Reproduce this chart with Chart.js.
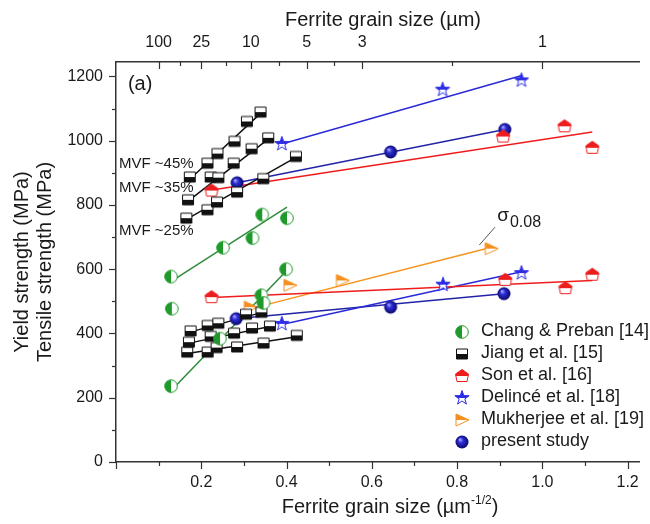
<!DOCTYPE html>
<html>
<head>
<meta charset="utf-8">
<script src="https://cdn.jsdelivr.net/npm/chart.js@4/dist/chart.umd.min.js"></script>
<style>
  html, body { margin: 0; padding: 0; background: #fff; }
</style>
</head>
<body>
<canvas id="hallPetch" width="650" height="524"></canvas>
<script>
// top axis: ferrite grain size d (µm), placed at d^-1/2
const grainSizeLabels = [100, 25, 10, 5, 3, 1];
const legendLabels = ['Chang & Preban [14]', 'Jiang et al. [15]', 'Son et al. [16]',
  'Delincé et al. [18]', 'Mukherjee et al. [19]', 'present study'];

// points as [d^-1/2 (µm^-1/2), strength (MPa)]
const changUpper = [[0.129, 577], [0.251, 667], [0.320, 697], [0.343, 770], [0.401, 759]];
const changLower = [[0.131, 477], [0.129, 236], [0.244, 384], [0.341, 519], [0.346, 495], [0.399, 600]];
const changUpperFit = [[0.125, 558], [0.401, 793]];
const changLowerFit = [[0.129, 222], [0.405, 602]];

const jiang45 = [[0.173, 887], [0.2145, 930], [0.238, 960], [0.278, 998], [0.307, 1060], [0.339, 1089]];
const jiang35 = [[0.169, 816], [0.222, 887], [0.240, 885], [0.276, 930], [0.318, 975], [0.357, 1009]];
const jiang25 = [[0.165, 759], [0.2145, 785], [0.237, 809], [0.284, 840], [0.3455, 882], [0.422, 951]];
const jiangLow1 = [[0.175, 408], [0.215, 425], [0.240, 432], [0.305, 460], [0.341, 466]];
const jiangLow2 = [[0.171, 373], [0.222, 391], [0.277, 401], [0.319, 417], [0.361, 423]];
const jiangLow3 = [[0.167, 342], [0.215, 342], [0.236, 356], [0.284, 358], [0.346, 370], [0.424, 394]];
const jiang45Fit = [[0.173, 880], [0.339, 1085]];
const jiang35Fit = [[0.169, 812], [0.357, 1005]];
const jiang25Fit = [[0.165, 755], [0.422, 948]];
const jiangLow1Fit = [[0.175, 405], [0.341, 465]];
const jiangLow2Fit = [[0.171, 370], [0.361, 422]];
const jiangLow3Fit = [[0.167, 338], [0.424, 390]];

const sonUpper = [[0.224, 845], [0.908, 1013], [1.052, 1045], [1.117, 978]];
const sonLower = [[0.224, 513], [0.913, 567], [1.054, 541], [1.117, 583]];
const sonUpperFit = [[0.217, 845], [1.117, 1027]];
const sonLowerFit = [[0.225, 512], [1.117, 565]];

const delinceUpper = [[0.389, 990], [0.766, 1159], [0.951, 1188]];
const delinceLower = [[0.389, 430], [0.767, 552], [0.951, 588]];
const delinceUpperFit = [[0.389, 990], [0.952, 1203]];
const delinceLowerFit = [[0.389, 428], [0.951, 592]];

const mukherjee = [[0.315, 482], [0.408, 550], [0.531, 565], [0.880, 664]];
const mukherjeeFit = [[0.300, 472], [0.883, 669]];

const presentUpper = [[0.284, 869], [0.644, 965], [0.912, 1035]];
const presentLower = [[0.282, 446], [0.644, 482], [0.910, 524]];
const presentUpperFit = [[0.284, 869], [0.912, 1035]];
const presentLowerFit = [[0.280, 446], [0.910, 524]];

const FONT = '"Liberation Sans", Arial, sans-serif';
const TEXT = '#1a1a1a';
const AXIS = '#333';

// ---- marker sprites ----
function marker(draw) {
  const c = document.createElement('canvas');
  c.width = c.height = 18;
  const g = c.getContext('2d');
  g.translate(9, 9);
  g.lineWidth = 1;
  draw(g);
  return c;
}
function twoTone(path, edge, fill, half) {
  return marker(g => {
    path(g); g.fillStyle = '#fff'; g.fill();
    g.save(); path(g); g.clip();
    g.fillStyle = fill;
    if (half === 'left') g.fillRect(-9, -9, 9, 18);
    else if (half === 'bottom') g.fillRect(-9, 0, 18, 9);
    else g.fillRect(-9, -9, 18, 9);
    g.restore();
    path(g); g.strokeStyle = edge; g.stroke();
  });
}
const circlePath = g => { g.beginPath(); g.arc(0, 0, 6.3, 0, Math.PI * 2); };
const squarePath = g => { g.beginPath(); g.rect(-5.5, -5, 11, 10); };
const housePath = g => {
  g.beginPath(); g.moveTo(0, -6.5); g.lineTo(6.5, -2); g.lineTo(5, 5.5);
  g.lineTo(-5, 5.5); g.lineTo(-6.5, -2); g.closePath();
};
const starPath = g => {
  g.beginPath();
  for (let i = 0; i < 10; i++) {
    const r = i % 2 ? 3 : 7.5, a = -Math.PI / 2 + i * Math.PI / 5;
    g.lineTo(r * Math.cos(a), r * Math.sin(a));
  }
  g.closePath();
};
const trianglePath = g => { g.beginPath(); g.moveTo(-6, -6); g.lineTo(7, 0); g.lineTo(-6, 6); g.closePath(); };

const markers = [
  twoTone(circlePath, '#1f9a2a', '#1f9a2a', 'left'),
  twoTone(squarePath, '#111', '#111', 'bottom'),
  twoTone(housePath, '#ee1d1d', '#ee1d1d', 'top'),
  twoTone(starPath, '#2b2be6', '#2b2be6', 'top'),
  twoTone(trianglePath, '#f5901e', '#f5901e', 'top'),
  marker(g => {
    const grad = g.createRadialGradient(-2, -2.5, 0.5, 0, 0, 6.5);
    grad.addColorStop(0, '#a0a0ff');
    grad.addColorStop(0.35, '#2d2dd6');
    grad.addColorStop(1, '#08086a');
    g.beginPath(); g.arc(0, 0, 6.5, 0, Math.PI * 2); g.fillStyle = grad; g.fill();
  })
];

const groups = [
  { pts: [changUpper, changLower], fits: [changUpperFit, changLowerFit], line: '#2e8b3a' },
  { pts: [jiang45, jiang35, jiang25, jiangLow1, jiangLow2, jiangLow3],
    fits: [jiang45Fit, jiang35Fit, jiang25Fit, jiangLow1Fit, jiangLow2Fit, jiangLow3Fit], line: '#111' },
  { pts: [sonUpper, sonLower], fits: [sonUpperFit, sonLowerFit], line: '#f01c1c' },
  { pts: [delinceUpper, delinceLower], fits: [delinceUpperFit, delinceLowerFit], line: '#2a2ad8' },
  { pts: [mukherjee], fits: [mukherjeeFit], line: '#f7941d' },
  { pts: [presentUpper, presentLower], fits: [presentUpperFit, presentLowerFit], line: '#2323a8' }
];

const toXY = arr => arr.map(([x, y]) => ({ x, y }));
const datasets = [];
groups.forEach((grp, i) => {
  grp.pts.forEach(p => datasets.push({
    label: legendLabels[i], data: toXY(p), pointStyle: markers[i], pointRadius: 6, showLine: false, order: 1
  }));
  grp.fits.forEach(f => datasets.push({
    data: toXY(f), showLine: true, borderColor: grp.line, borderWidth: 1.5, pointRadius: 0, order: 2
  }));
});

const topVals = grainSizeLabels.map(d => 1 / Math.sqrt(d));

// ticks, titles, notes and legend
const decor = {
  id: 'decor',
  afterDraw(chart) {
    const { ctx, chartArea: a, scales } = chart;
    const { x, y, top } = scales;
    ctx.save();
    ctx.strokeStyle = AXIS;
    ctx.lineWidth = 1.2;
    const line = (x1, y1, x2, y2) => { ctx.beginPath(); ctx.moveTo(x1, y1); ctx.lineTo(x2, y2); ctx.stroke(); };
    const mids = v => v.slice(1).map((t, i) => (t + v[i]) / 2);

    const xv = x.ticks.map(t => t.value);
    xv.forEach(v => { const p = Math.round(x.getPixelForValue(v)) + 0.5; line(p, a.bottom, p, a.bottom + 7); });
    mids(xv).forEach(v => { const p = Math.round(x.getPixelForValue(v)) + 0.5; line(p, a.bottom, p, a.bottom + 4); });

    const yv = y.ticks.map(t => t.value);
    yv.forEach(v => { const p = Math.round(y.getPixelForValue(v)) + 0.5; line(a.left, p, a.left - 7, p); });
    mids(yv).forEach(v => { const p = Math.round(y.getPixelForValue(v)) + 0.5; line(a.left, p, a.left - 4, p); });

    topVals.forEach(v => { const p = Math.round(top.getPixelForValue(v)) + 0.5; line(p, a.top, p, a.top + 7); });
    mids(topVals).forEach(v => { const p = Math.round(top.getPixelForValue(v)) + 0.5; line(p, a.top, p, a.top + 4); });

    ctx.fillStyle = TEXT;
    // axis titles
    ctx.font = '20px ' + FONT;
    ctx.textAlign = 'center';
    ctx.textBaseline = 'middle';
    ctx.fillText('Ferrite grain size (\u00b5m)', 383, 20);

    const main = 'Ferrite grain size (\u00b5m', sup = '-1/2';
    ctx.textAlign = 'left';
    ctx.textBaseline = 'alphabetic';
    const wMain = ctx.measureText(main).width;
    ctx.font = '12px ' + FONT;
    const wSup = ctx.measureText(sup).width;
    ctx.font = '20px ' + FONT;
    const wEnd = ctx.measureText(')').width;
    let bx = 390 - (wMain + wSup + wEnd) / 2;
    const by = 513;
    ctx.fillText(main, bx, by);
    ctx.font = '12px ' + FONT;
    ctx.fillText(sup, bx + wMain, by - 9);
    ctx.font = '20px ' + FONT;
    ctx.fillText(')', bx + wMain + wSup, by);

    ctx.save();
    ctx.textAlign = 'center';
    ctx.textBaseline = 'middle';
    ctx.translate(22, 262);
    ctx.rotate(-Math.PI / 2);
    ctx.fillText('Yield strength (MPa)', 0, 0);
    ctx.fillText('Tensile strength (MPa)', 0, 23);
    ctx.restore();

    // notes inside the plot
    ctx.textAlign = 'left';
    ctx.textBaseline = 'middle';
    ctx.font = '20px ' + FONT;
    ctx.fillText('(a)', x.getPixelForValue(0.028), y.getPixelForValue(1176));
    ctx.font = '15px ' + FONT;
    [['MVF ~45%', 927], ['MVF ~35%', 852], ['MVF ~25%', 720]].forEach(([t, v]) =>
      ctx.fillText(t, x.getPixelForValue(0.007), y.getPixelForValue(v)));

    // sigma_0.08 note with leader
    ctx.strokeStyle = '#555';
    ctx.lineWidth = 1;
    line(x.getPixelForValue(0.889), y.getPixelForValue(731), x.getPixelForValue(0.852), y.getPixelForValue(675));
    ctx.textBaseline = 'alphabetic';
    const sx = x.getPixelForValue(0.894), sy = y.getPixelForValue(750);
    ctx.font = '19px ' + FONT;
    ctx.fillText('\u03c3', sx, sy);
    const ws = ctx.measureText('\u03c3').width;
    ctx.font = '16px ' + FONT;
    ctx.fillText('0.08', sx + ws + 1, sy + 6);

    // legend
    ctx.font = '18px ' + FONT;
    ctx.textBaseline = 'middle';
    legendLabels.forEach((t, i) => {
      const ly = 331.5 + i * 22;
      ctx.drawImage(markers[i], 462 - 9, Math.round(ly) - 9);
      ctx.fillText(t, 481, ly);
    });
    ctx.restore();
  }
};

const tickFont = { family: FONT, size: 16 };
new Chart(document.getElementById('hallPetch'), {
  type: 'scatter',
  data: { datasets },
  options: {
    responsive: false,
    animation: false,
    events: [],
    layout: { padding: { left: 0, right: 0, top: 0, bottom: 0 } },
    plugins: { legend: { display: false }, tooltip: { enabled: false } },
    scales: {
      x: {
        type: 'linear', position: 'bottom', min: 0, max: 1.228,
        ticks: { stepSize: 0.2, includeBounds: false, padding: 11, font: tickFont, color: TEXT,
          callback: v => v === 0 ? '' : v.toFixed(1) },
        grid: { drawOnChartArea: false, drawTicks: false },
        border: { color: AXIS, width: 1.5 },
        afterFit: s => { s.height = 62; }
      },
      top: {
        type: 'linear', position: 'top', min: 0, max: 1.228,
        afterBuildTicks: s => { s.ticks = topVals.map(v => ({ value: v })); },
        ticks: { autoSkip: false, padding: 10, font: tickFont, color: TEXT,
          callback: (v, i) => String(grainSizeLabels[i]) },
        grid: { drawOnChartArea: false, drawTicks: false },
        border: { color: AXIS, width: 1.5 },
        afterFit: s => { s.height = 62; }
      },
      y: {
        type: 'linear', position: 'left', min: 0, max: 1245,
        ticks: { stepSize: 200, includeBounds: false, padding: 13, font: tickFont, color: TEXT,
          callback: v => String(v) },
        grid: { drawOnChartArea: false, drawTicks: false },
        border: { color: AXIS, width: 1.5 },
        afterFit: s => { s.width = 116; }
      }
    }
  },
  plugins: [decor]
});
</script>
</body>
</html>
